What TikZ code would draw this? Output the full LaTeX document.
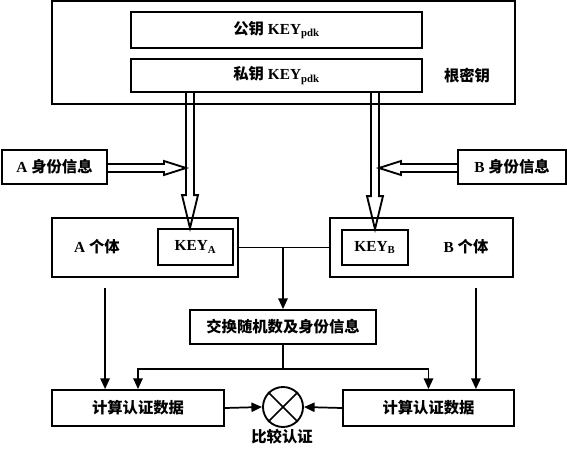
\documentclass[tikz,border=0pt]{standalone}
\usepackage{fontspec}
\setmainfont{Liberation Serif}
\newfontfamily\cjk{Noto Sans CJK SC}
\usetikzlibrary{calc,arrows.meta}
\newcommand{\zh}[1]{{\cjk\bfseries #1}}
\newdimen\px \px=0.75pt
\tikzset{
  box/.style={draw, line width=1.4pt, rectangle, inner sep=0pt, font=\fontsize{11.5}{13}\selectfont\bfseries},
  lbl/.style={inner sep=0pt, font=\fontsize{11.5}{13}\selectfont\bfseries},
  ln/.style={line width=1.3pt},
  arr/.style={line width=1.3pt, -{Triangle[length=8pt,width=7pt]}},
  blk/.style={line width=1.4pt, line join=miter},
}
\begin{document}
\begin{tikzpicture}[x=0.75pt,y=-0.75pt]
\useasboundingbox (0,0) rectangle (567,450);
% root key
\node[box, minimum width=463\px, minimum height=103\px] (root) at (283.5,52.5) {};
\node[box, minimum width=291\px, minimum height=36\px] (pub) at (276.5,30) {\zh{公钥} KEY\textsubscript{pdk}};
\node[box, minimum width=291\px, minimum height=33\px] (priv) at (276.5,75.5) {\zh{私钥} KEY\textsubscript{pdk}};
\node[lbl] (rootlbl) at (467,76) {\zh{根密钥}};
% identity info
\node[box, minimum width=105\px, minimum height=34\px] (aid) at (54.5,167) {A \zh{身份信息}};
\node[box, minimum width=108\px, minimum height=34\px] (bid) at (512,167) {B \zh{身份信息}};
% entities
\node[box, minimum width=186\px, minimum height=59\px] (Aent) at (145,247.5) {};
\node[box, minimum width=75\px, minimum height=36\px] (keyA) at (195.5,247) {KEY\textsubscript{A}};
\node[lbl] (Atxt) at (97,247) {A \zh{个体}};
\node[box, minimum width=183\px, minimum height=59\px] (Bent) at (421.5,247.5) {};
\node[box, minimum width=66\px, minimum height=35\px] (keyB) at (375,247.5) {KEY\textsubscript{B}};
\node[lbl] (Btxt) at (466,247) {B \zh{个体}};
% exchange
\node[box, minimum width=186\px, minimum height=34\px] (exch) at (283,327) {\zh{交换随机数及身份信息}};
% calc boxes
\node[box, minimum width=172\px, minimum height=36\px] (calcA) at (138,408) {\zh{计算认证数据}};
\node[box, minimum width=171\px, minimum height=36\px] (calcB) at (428.5,408) {\zh{计算认证数据}};
\node[draw, circle, line width=1.4pt, minimum size=40\px, inner sep=0pt] (cmp) at (283,407) {};
\node[lbl] (cmplbl) at (282,437) {\zh{比较认证}};
\draw[ln] (cmp.north west) -- (cmp.south east);
\draw[ln] (cmp.north east) -- (cmp.south west);

% block arrows left
\coordinate (ta) at ($(keyA.north)+(-5.5,0)$);
\coordinate (sa) at (priv.south -| ta);
\draw[blk] ($(sa)+(-4,0)$) -- ($(ta)+(-4,-33)$) -- ($(ta)+(-8,-33)$) -- (ta) -- ($(ta)+(8,-33)$) -- ($(ta)+(4,-33)$) -- ($(sa)+(4,0)$);
\coordinate (ha) at ($(aid.east -| ta)+(-4,1)$);
\coordinate (hs) at ($(aid.east)+(0,1)$);
\draw[blk] ($(hs)+(0,-4)$) -- ($(ha)+(-22,-4)$) -- ($(ha)+(-22,-7)$) -- (ha) -- ($(ha)+(-22,7)$) -- ($(ha)+(-22,4)$) -- ($(hs)+(0,4)$);
% block arrows right
\coordinate (tb) at (keyB.north);
\coordinate (sb) at (priv.south -| tb);
\draw[blk] ($(sb)+(-4,0)$) -- ($(tb)+(-4,-33)$) -- ($(tb)+(-8,-33)$) -- (tb) -- ($(tb)+(8,-33)$) -- ($(tb)+(4,-33)$) -- ($(sb)+(4,0)$);
\coordinate (hb) at ($(bid.west -| tb)+(4,1)$);
\coordinate (hbs) at ($(bid.west)+(0,1)$);
\draw[blk] ($(hbs)+(0,-4)$) -- ($(hb)+(22,-4)$) -- ($(hb)+(22,-7)$) -- (hb) -- ($(hb)+(22,7)$) -- ($(hb)+(22,4)$) -- ($(hbs)+(0,4)$);

% connections
\draw[ln] (Aent.east) -- (Bent.west);
\coordinate (j) at (exch.north |- Aent.east);
\draw[arr] (j) -- (exch.north);
\draw[arr] (exch.south) -- ++(0,24) -| (calcA.north);
\draw[arr] (exch.south) -- ++(0,24) -| (calcB.north);
\coordinate (la) at ($(Aent.south west)+(54,10)$);
\draw[arr] (la) -- (la |- calcA.north);
\coordinate (lb) at ($(Bent.south east)+(-38,10)$);
\draw[arr] (lb) -- (lb |- calcB.north);
\draw[arr] (calcA.east) -- (cmp.west);
\draw[arr] (calcB.west) -- (cmp.east);
\end{tikzpicture}
\end{document}
